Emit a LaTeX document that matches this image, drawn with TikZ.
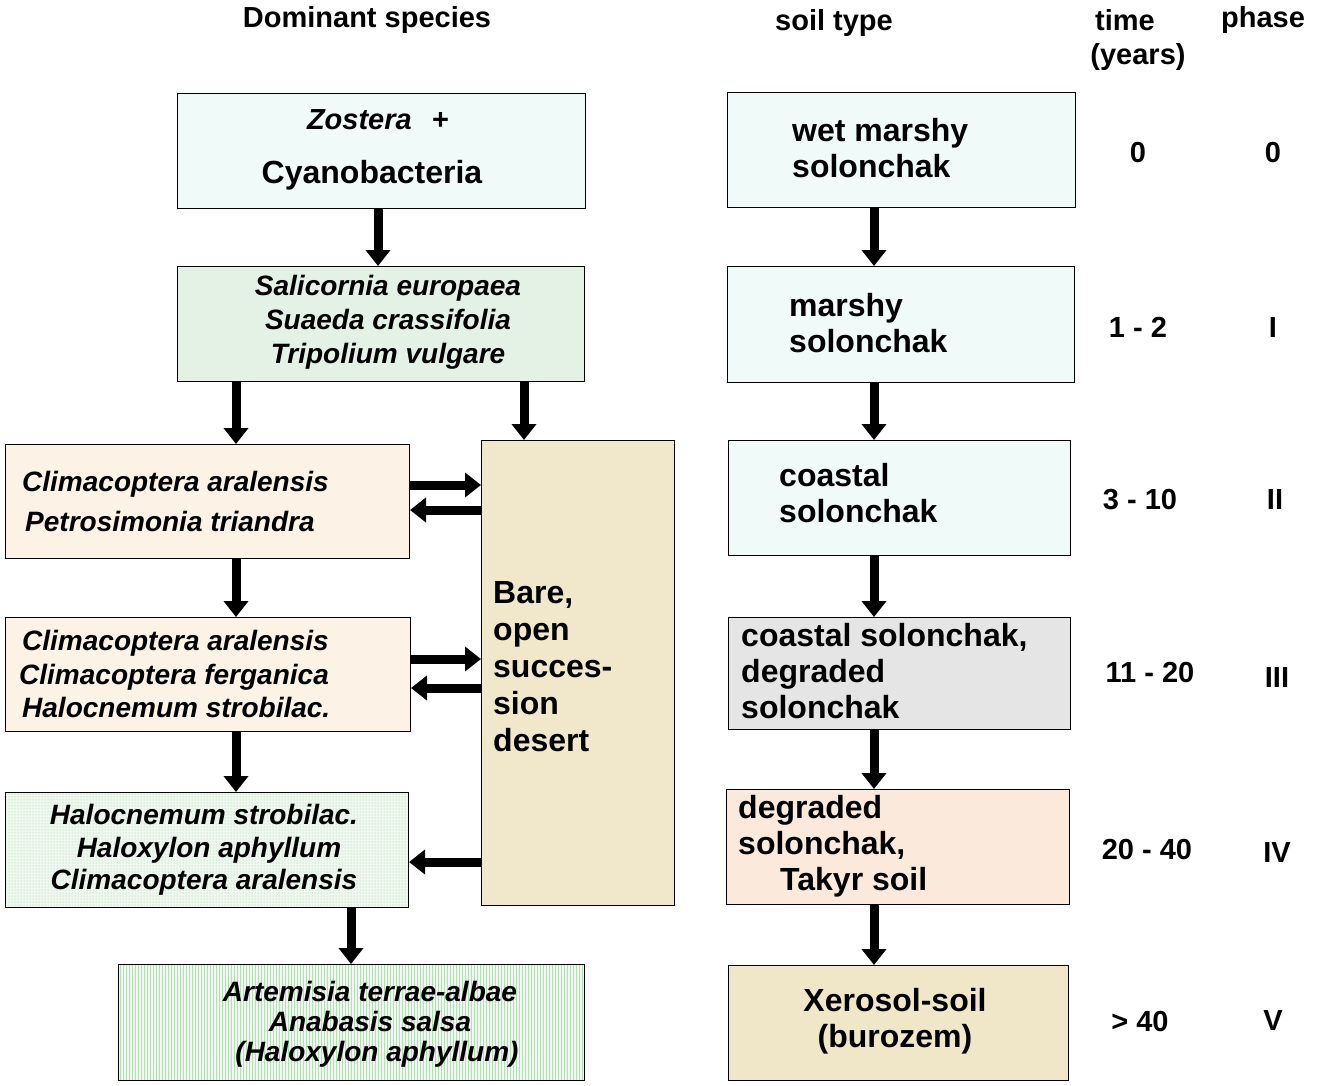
\documentclass[tikz,border=0pt]{standalone}
\usepackage{fontspec}
\setmainfont{Liberation Sans}
\usetikzlibrary{arrows.meta,patterns}
\definecolor{cyanl}{HTML}{F0FAF8}
\definecolor{greenl}{HTML}{E4F2E6}
\definecolor{peach}{HTML}{FCF3E6}
\definecolor{bare}{HTML}{F1E8CC}
\definecolor{grayl}{HTML}{E5E5E5}
\definecolor{rose}{HTML}{FBE9DC}
\definecolor{xero}{HTML}{F0E6C8}
\tikzset{
  box/.style={draw=black, line width=1pt, inner sep=0pt, anchor=north west},
  txt/.style={font=\bfseries\fontsize{29}{35}\selectfont, inner sep=0pt, align=center},
  itx/.style={font=\bfseries\itshape\fontsize{28}{34}\selectfont, inner sep=0pt, align=center},
  itl/.style={itx, align=left, anchor=west},
  stx/.style={font=\bfseries\fontsize{32}{36}\selectfont, inner sep=0pt, align=left, anchor=west},
  big/.style={-{Triangle[width=24pt,length=16pt]}, line width=9pt, shorten <=-1pt},
}
\newcommand{\bx}[6]{\node[box,fill=#6,minimum width=#4-#2,minimum height=#5-#3] (#1) at (#2,#3) {};}
\begin{document}
\begin{tikzpicture}[x=1pt,y=-1pt]
\useasboundingbox (0,0) rectangle (1320,1085);
% left boxes
\bx{b1}{177}{93}{585}{208}{cyanl}
\bx{b2}{177}{266}{584}{381}{greenl}
\bx{b3}{5}{444}{409}{558}{peach}
\bx{b4}{5}{617}{410}{731}{peach}
\node[box,preaction={fill=greenl!60},pattern=dots,pattern color=green!60!black!40,minimum width=403,minimum height=115] (b5) at (5,792) {};
\node[box,preaction={fill=greenl!60},pattern=vertical lines,pattern color=green!60!black!30,minimum width=466,minimum height=116] (b6) at (118,964) {};
\bx{bare}{481}{440}{674}{905}{bare}
% right boxes
\bx{r1}{727}{92}{1075}{207}{cyanl}
\bx{r2}{727}{266}{1074}{382}{cyanl}
\bx{r3}{728}{440}{1070}{555}{cyanl}
\bx{r4}{728}{617}{1070}{729}{grayl}
\bx{r5}{726}{789}{1069}{904}{rose}
\bx{r6}{728}{965}{1068}{1080}{xero}
% headers
\node[txt] (h1) at (367,20) {Dominant species};
\node[txt] (h2) at (834,23) {soil type};
\node[txt] (h3) at (1125,20) {time};
\node[txt] (h4) at (1138,57) {(years)};
\node[txt] (h5) at (1263,20) {phase};
% left texts
\node[txt] (t1a) at (378,120) {\textit{Zostera}\hspace{0.7em}+};
\node[txt,font=\bfseries\fontsize{32}{36}\selectfont] (t1b) at (372,175) {Cyanobacteria};
\node[itx] (t2) at (388,322) {Salicornia europaea\\Suaeda crassifolia\\Tripolium vulgare};
\node[itl,font=\bfseries\itshape\fontsize{28}{40}\selectfont] (t3) at (22,501) {Climacoptera aralensis\\\hspace{3pt}Petrosimonia triandra};
\node[itl,font=\bfseries\itshape\fontsize{28}{33.5}\selectfont] (t4) at (19,674) {\hspace{3pt}Climacoptera aralensis\\Climacoptera ferganica\\\hspace{3pt}Halocnemum strobilac.};
\node[itx,font=\bfseries\itshape\fontsize{28}{32.5}\selectfont] (t5) at (204,850) {Halocnemum strobilac.\\\hspace{10pt}Haloxylon aphyllum\\Climacoptera aralensis};
\node[itx,font=\bfseries\itshape\fontsize{28}{30}\selectfont] (t6) at (370,1024) {Artemisia terrae-albae\\Anabasis salsa\hspace{18pt}\\\hspace{14pt}(Haloxylon aphyllum)};
\node[stx,font=\bfseries\fontsize{32}{37}\selectfont] (tb) at (493,667) {Bare,\\open\\succes-\\sion\\desert};
% right texts
\node[stx] (s1) at (792,148) {wet marshy\\solonchak};
\node[stx] (s2) at (789,323) {marshy\\solonchak};
\node[stx] (s3) at (779,493) {coastal\\solonchak};
\node[stx] (s4) at (741,671) {coastal solonchak,\\degraded\\solonchak};
\node[stx] (s5) at (738,846) {degraded\\solonchak,\\\hspace{42pt}Takyr soil};
\node[stx,align=center,anchor=center] (s6) at (895,1021) {Xerosol-soil\\(burozem)};
% times and phases
\node[txt] (y0) at (1138,153) {0};
\node[txt] (y1) at (1138,327) {1 - 2};
\node[txt] (y2) at (1140,500) {3 - 10};
\node[txt] (y3) at (1150,673) {11 - 20};
\node[txt] (y4) at (1147,850) {20 - 40};
\node[txt] (y5) at (1140,1022) {> 40};
\node[txt] (p0) at (1273,153) {0};
\node[txt] (p1) at (1273,328) {I};
\node[txt] (p2) at (1275,500) {II};
\node[txt] (p3) at (1277,678) {III};
\node[txt] (p4) at (1277,853) {IV};
\node[txt] (p5) at (1273,1021) {V};
% vertical arrows left
\draw[big] (b1.south -| 378,0) -- (b2.north -| 378,0);
\draw[big] (b2.south -| 236,0) -- (b3.north -| 236,0);
\draw[big] (b2.south -| 524,0) -- (bare.north -| 524,0);
\draw[big] (b3.south -| 236,0) -- (b4.north -| 236,0);
\draw[big] (b4.south -| 236,0) -- (b5.north -| 236,0);
\draw[big] (b5.south -| 351,0) -- (b6.north -| 351,0);
% horizontal arrows
\draw[big] (b3.east |- 0,485) -- (bare.west |- 0,485);
\draw[big] (bare.west |- 0,510) -- (b3.east |- 0,510);
\draw[big] (b4.east |- 0,659) -- (bare.west |- 0,659);
\draw[big] (bare.west |- 0,688) -- (b4.east |- 0,688);
\draw[big] (bare.west |- 0,862) -- (b5.east |- 0,862);
% right arrows
\draw[big] (r1.south -| 874,0) -- (r2.north -| 874,0);
\draw[big] (r2.south -| 874,0) -- (r3.north -| 874,0);
\draw[big] (r3.south -| 874,0) -- (r4.north -| 874,0);
\draw[big] (r4.south -| 874,0) -- (r5.north -| 874,0);
\draw[big] (r5.south -| 874,0) -- (r6.north -| 874,0);
\end{tikzpicture}
\end{document}
